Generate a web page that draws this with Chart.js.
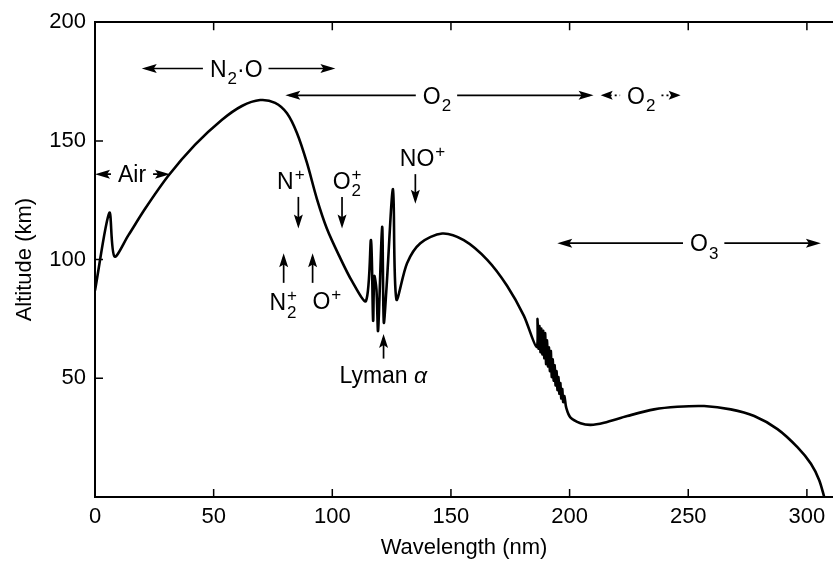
<!DOCTYPE html>
<html>
<head>
<meta charset="utf-8">
<title>Altitude vs wavelength</title>
<script src="https://cdn.jsdelivr.net/npm/chart.js@4.4.1/dist/chart.umd.min.js"></script>
<style>
html, body { margin: 0; padding: 0; background: #fff; }
#wrap { width: 833px; height: 567px; }
</style>
</head>
<body>
<div id="wrap"><canvas id="altitudeChart" width="833" height="567"></canvas></div>
<script>
// curve (wavelength in nm, altitude in km)
var wavelength = [0, 6.05, 8.2, 14.1, 21.1, 30.9, 42.2, 53.4, 61.9, 69.6, 75.9, 80.9, 85.1, 89.3, 93.5, 97.7, 102.7, 108.3, 114.2,
    116.3, 117.2, 117.7, 118.6, 119.3, 121, 121.7, 122.8, 125.6, 127,
    131.5, 137.1, 146.3, 155.4, 165.3, 173.7, 180.7, 186.1,
    186.5, 186.9, 187.3, 187.7, 188.1, 188.5, 188.9, 189.3, 189.7, 190.1, 190.5, 190.9, 191.3, 191.7, 192.1, 192.5,
    192.9, 193.3, 193.7, 194.1, 194.5, 194.9, 195.3, 195.7, 196.1, 196.5, 196.9, 197.3, 197.8, 198.6,
    200.4, 204.6, 208.9, 214.5, 224.3, 235.6, 245.4, 256.7, 267.9, 277.8, 287.6, 296.1, 301.7, 305.2, 307.3];
var altitude = [87, 119.7, 101.3, 110.3, 121.4, 135.3, 148.4, 158.8, 164.7, 167.2, 166, 161.6, 153.3, 140.8, 125.6, 113.1, 102, 90.9, 82.6,
    108.2, 74.3, 93, 87.5, 70.1, 113.8, 73.6, 87.4, 129.7, 83.3,
    98.5, 106.9, 111, 108.2, 99.9, 88.9, 76.4, 63.2,
    75, 62.5, 72, 61, 71, 60, 70, 58.5, 69, 56, 66, 55, 63, 53, 61.5, 50.5,
    58, 49, 55.5, 47, 53, 45, 50.5, 43.5, 48, 41.5, 45.5, 40, 42.5, 37.5,
    33.4, 31.1, 30.4, 31.3, 34.1, 36.9, 38, 38.3, 36.9, 34.1, 28.6, 20.9, 14, 7.1, 0];

var xTickValues = [0, 50, 100, 150, 200, 250, 300];
var yTickValues = [50, 100, 150, 200];

var FONT = '"Liberation Sans", Arial, Helvetica, sans-serif';
var TICK_SIZE = 22;
var TEXT_SIZE = 23;

// labelled arrows: horizontal spans and short vertical pointers
var spanArrows = [
    { y: 180.5, from: 19.7, to: 101.3, at: 59.3, label: [{t: 'N'}, {sub: '2'}, {t: '\u00b7O'}] },
    { y: 169.2, from: 80.2, to: 210.1, at: 143.9, label: [{t: 'O'}, {sub: '2'}] },
    { y: 169.2, from: 213.1, to: 246.8, at: 230, label: [{t: 'O'}, {sub: '2'}], dotted: true },
    { y: 136, from: 0, to: 31.6, at: 15.6, label: [{t: 'Air'}] },
    { y: 106.9, from: 194.8, to: 305.9, at: 256.5, label: [{t: 'O'}, {sub: '3'}] }
];
var pointerArrows = [
    { x: 85.7, from: 126.4, to: 113.1 },
    { x: 104.1, from: 126.4, to: 113.1 },
    { x: 135, from: 136, to: 123.5 },
    { x: 79.5, from: 90.2, to: 102.7 },
    { x: 91.7, from: 90.2, to: 102.7 },
    { x: 121.6, from: 58.3, to: 68.7 }
];
var ionLabels = [
    { x: 82.3, y: 129.7, label: [{t: 'N'}, {sup: '+'}] },
    { x: 106, y: 129.7, label: [{t: 'O'}, {sub: '2', sup: '+'}] },
    { x: 137.8, y: 139.3, label: [{t: 'NO'}, {sup: '+'}] },
    { x: 79.1, y: 78.6, label: [{t: 'N'}, {sub: '2', sup: '+'}] },
    { x: 97.5, y: 79.1, label: [{t: 'O'}, {sup: '+'}] },
    { x: 121.5, y: 47.9, label: [{t: 'Lyman '}, {t: '\u03b1', it: true}] }
];

function setPartFont(ctx, p, size) {
    if (p.t !== undefined) {
        ctx.font = (p.it ? 'italic ' : '') + size + 'px ' + FONT;
    } else {
        ctx.font = Math.round(size * 0.72) + 'px ' + FONT;
    }
}

function partWidth(ctx, p, size) {
    setPartFont(ctx, p, size);
    if (p.t !== undefined) return ctx.measureText(p.t).width;
    return Math.max(p.sub ? ctx.measureText(p.sub).width : 0, p.sup ? ctx.measureText(p.sup).width : 0);
}

function richWidth(ctx, parts, size) {
    var w = 0;
    for (var i = 0; i < parts.length; ++i) {
        w += partWidth(ctx, parts[i], size);
    }
    return w;
}

function drawRich(ctx, parts, cx, baseline, size) {
    var x = cx - richWidth(ctx, parts, size) / 2;
    ctx.textAlign = 'left';
    ctx.textBaseline = 'alphabetic';
    for (var i = 0; i < parts.length; ++i) {
        var p = parts[i];
        var w = partWidth(ctx, p, size);
        if (p.t !== undefined) {
            ctx.fillText(p.t, x, baseline);
        } else {
            if (p.sub) ctx.fillText(p.sub, x + 1, baseline + size * 0.32);
            if (p.sup) ctx.fillText(p.sup, x + 1, baseline - size * 0.4);
        }
        x += w + (p.t === undefined ? 1 : 0);
    }
}

function arrowHead(ctx, tipX, tipY, dx, dy, len, half) {
    ctx.beginPath();
    ctx.moveTo(tipX, tipY);
    ctx.lineTo(tipX - dx * len - dy * half, tipY - dy * len + dx * half);
    ctx.lineTo(tipX - dx * len * 0.8, tipY - dy * len * 0.8);
    ctx.lineTo(tipX - dx * len + dy * half, tipY - dy * len - dx * half);
    ctx.closePath();
    ctx.fill();
}

var annotationPlugin = {
    id: 'annotations',
    afterDraw: function(chart) {
        var ctx = chart.ctx;
        var xs = chart.scales.x;
        var ys = chart.scales.y;
        var area = chart.chartArea;
        ctx.save();
        ctx.strokeStyle = '#000';
        ctx.fillStyle = '#000';

        // inward tick marks on bottom, top and left
        ctx.lineWidth = 1.5;
        ctx.beginPath();
        xTickValues.forEach(function(v) {
            if (v === 0) return;
            var px = xs.getPixelForValue(v);
            ctx.moveTo(px, area.bottom);
            ctx.lineTo(px, area.bottom - 8);
            ctx.moveTo(px, area.top);
            ctx.lineTo(px, area.top + 8);
        });
        yTickValues.forEach(function(v) {
            var py = ys.getPixelForValue(v);
            ctx.moveTo(area.left, py);
            ctx.lineTo(area.left + 8, py);
        });
        ctx.stroke();

        // horizontal spans
        spanArrows.forEach(function(a) {
            var y = ys.getPixelForValue(a.y);
            var x1 = xs.getPixelForValue(a.from);
            var x2 = xs.getPixelForValue(a.to);
            var cx = xs.getPixelForValue(a.at);
            var tw = richWidth(ctx, a.label, TEXT_SIZE);
            var gap = 7;
            ctx.lineWidth = 1.7;
            ctx.setLineDash(a.dotted ? [2, 3] : []);
            ctx.beginPath();
            ctx.moveTo(x1 + 4, y);
            ctx.lineTo(cx - tw / 2 - gap, y);
            ctx.moveTo(cx + tw / 2 + gap, y);
            ctx.lineTo(x2 - 4, y);
            ctx.stroke();
            ctx.setLineDash([]);
            var hl = a.dotted ? 12 : 15;
            arrowHead(ctx, x1, y, -1, 0, hl, 4.5);
            arrowHead(ctx, x2, y, 1, 0, hl, 4.5);
            drawRich(ctx, a.label, cx, y + TEXT_SIZE * 0.36, TEXT_SIZE);
        });

        // vertical pointers
        pointerArrows.forEach(function(a) {
            var x = xs.getPixelForValue(a.x);
            var y1 = ys.getPixelForValue(a.from);
            var y2 = ys.getPixelForValue(a.to);
            var dir = y2 > y1 ? 1 : -1;
            ctx.lineWidth = 1.7;
            ctx.beginPath();
            ctx.moveTo(x, y1);
            ctx.lineTo(x, y2 - dir * 4);
            ctx.stroke();
            arrowHead(ctx, x, y2, 0, dir, 14, 4.5);
        });

        ionLabels.forEach(function(l) {
            drawRich(ctx, l.label, xs.getPixelForValue(l.x), ys.getPixelForValue(l.y), TEXT_SIZE);
        });
        ctx.restore();
    }
};

var points = wavelength.map(function(w, i) {
    return { x: w, y: altitude[i] };
});

var tickFont = { family: FONT, size: TICK_SIZE };

var altitudeChart = new Chart(document.getElementById('altitudeChart').getContext('2d'), {
    type: 'line',
    data: {
        datasets: [
            {
                label: 'Altitude',
                data: points,
                borderColor: '#000',
                borderWidth: 2.6,
                borderJoinStyle: 'round',
                pointRadius: 0,
                fill: false,
                tension: 0.3
            }
        ]
    },
    options: {
        responsive: false,
        animation: false,
        devicePixelRatio: 1,
        layout: { padding: 0 },
        plugins: {
            legend: { display: false },
            tooltip: { enabled: false }
        },
        scales: {
            x: {
                type: 'linear',
                position: 'bottom',
                min: 0,
                max: 311,
                grid: { display: false, drawTicks: false },
                border: { display: true, color: '#000', width: 2 },
                ticks: { color: '#000', font: tickFont, padding: 7, maxRotation: 0, autoSkip: false },
                afterBuildTicks: function(scale) {
                    scale.ticks = xTickValues.map(function(v) { return { value: v }; });
                },
                afterFit: function(scale) { scale.height = 70; },
                title: {
                    display: true,
                    text: 'Wavelength (nm)',
                    color: '#000',
                    font: tickFont,
                    padding: { top: 0, bottom: 6 }
                }
            },
            xTop: {
                type: 'linear',
                position: 'top',
                min: 0,
                max: 311,
                grid: { display: false, drawTicks: false },
                border: { display: true, color: '#000', width: 2 },
                ticks: { display: false },
                afterFit: function(scale) { scale.height = 16; }
            },
            y: {
                type: 'linear',
                position: 'left',
                min: 0,
                max: 200,
                grid: { display: false, drawTicks: false },
                border: { display: true, color: '#000', width: 2 },
                ticks: { color: '#000', font: tickFont, padding: 9 },
                afterBuildTicks: function(scale) {
                    scale.ticks = yTickValues.map(function(v) { return { value: v }; });
                },
                afterFit: function(scale) { scale.width = 95; },
                title: {
                    display: true,
                    text: 'Altitude (km)',
                    color: '#000',
                    font: tickFont,
                    padding: { top: 12, bottom: 0 }
                }
            }
        }
    },
    plugins: [annotationPlugin]
});
</script>
</body>
</html>
